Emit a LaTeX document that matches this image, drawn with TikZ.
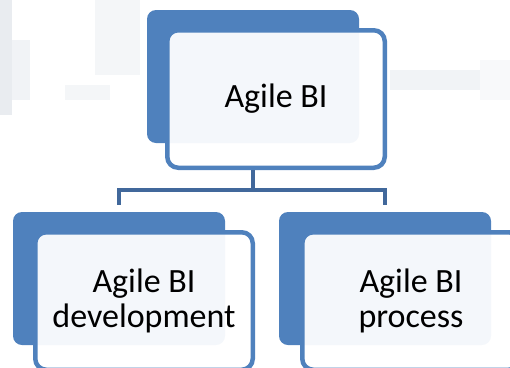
\documentclass[tikz,border=0pt]{standalone}
\usepackage{fontspec}
\setmainfont{Carlito}
\usepackage{tikz}
\usetikzlibrary{positioning, calc}
\definecolor{orgblue}{HTML}{4F81BD}
\definecolor{orgline}{HTML}{41689B}
\definecolor{haze}{HTML}{C9D0DA}
\tikzset{
  backbox/.style={rectangle, rounded corners=9pt, fill=orgblue, draw=none, minimum width=212pt, minimum height=133pt, outer sep=0pt},
  frontbox/.style={rectangle, rounded corners=11pt, draw=orgblue, line width=4.5pt, fill=white, fill opacity=0.94, text opacity=1, minimum width=217.5pt, minimum height=137.5pt, align=center, font=\fontsize{34}{35}\selectfont},
  link/.style={draw=orgline, line width=4.5pt},
  hazebox/.style={fill=haze, draw=none, opacity=0.4}
}

\begin{document}
\begin{tikzpicture}[x=1pt, y=-1pt]
  \useasboundingbox (0,0) rectangle (510,367);

  % faint background behind the chart
  \fill[hazebox] (0,0) rectangle (12,115);
  \fill[hazebox, opacity=0.25] (12,40) rectangle (30,100);
  \fill[hazebox, opacity=0.2] (95,0) rectangle (140,75);
  \fill[hazebox, opacity=0.2] (65,85) rectangle (110,100);
  \fill[hazebox, opacity=0.25] (390,70) rectangle (480,90);
  \fill[hazebox, opacity=0.12] (480,60) rectangle (510,100);

  % top level
  \node[backbox, anchor=north west] (topback) at (147,10) {};
  \node[frontbox, anchor=north west] (top) at ($(topback.north west)+(18,18)$) {Agile BI};

  % second level
  \node[backbox, anchor=north west] (leftback) at (13,212) {};
  \node[frontbox, anchor=north west] (left) at ($(leftback.north west)+(20,18)$) {Agile BI\\development};

  \node[backbox, anchor=north west] (rightback) at (279,212) {};
  \node[frontbox, anchor=north west] (right) at ($(rightback.north west)+(21,18)$) {Agile BI\\process};

  % connectors
  \coordinate (fork) at ($(topback.south |- top.south)+(0,20)$);
  \draw[link] (topback.south |- top.south) -- (fork);
  \draw[link, shorten >=7pt] (fork) -| (leftback.north);
  \draw[link, shorten >=7pt] (fork) -| (rightback.north);
\end{tikzpicture}
\end{document}
